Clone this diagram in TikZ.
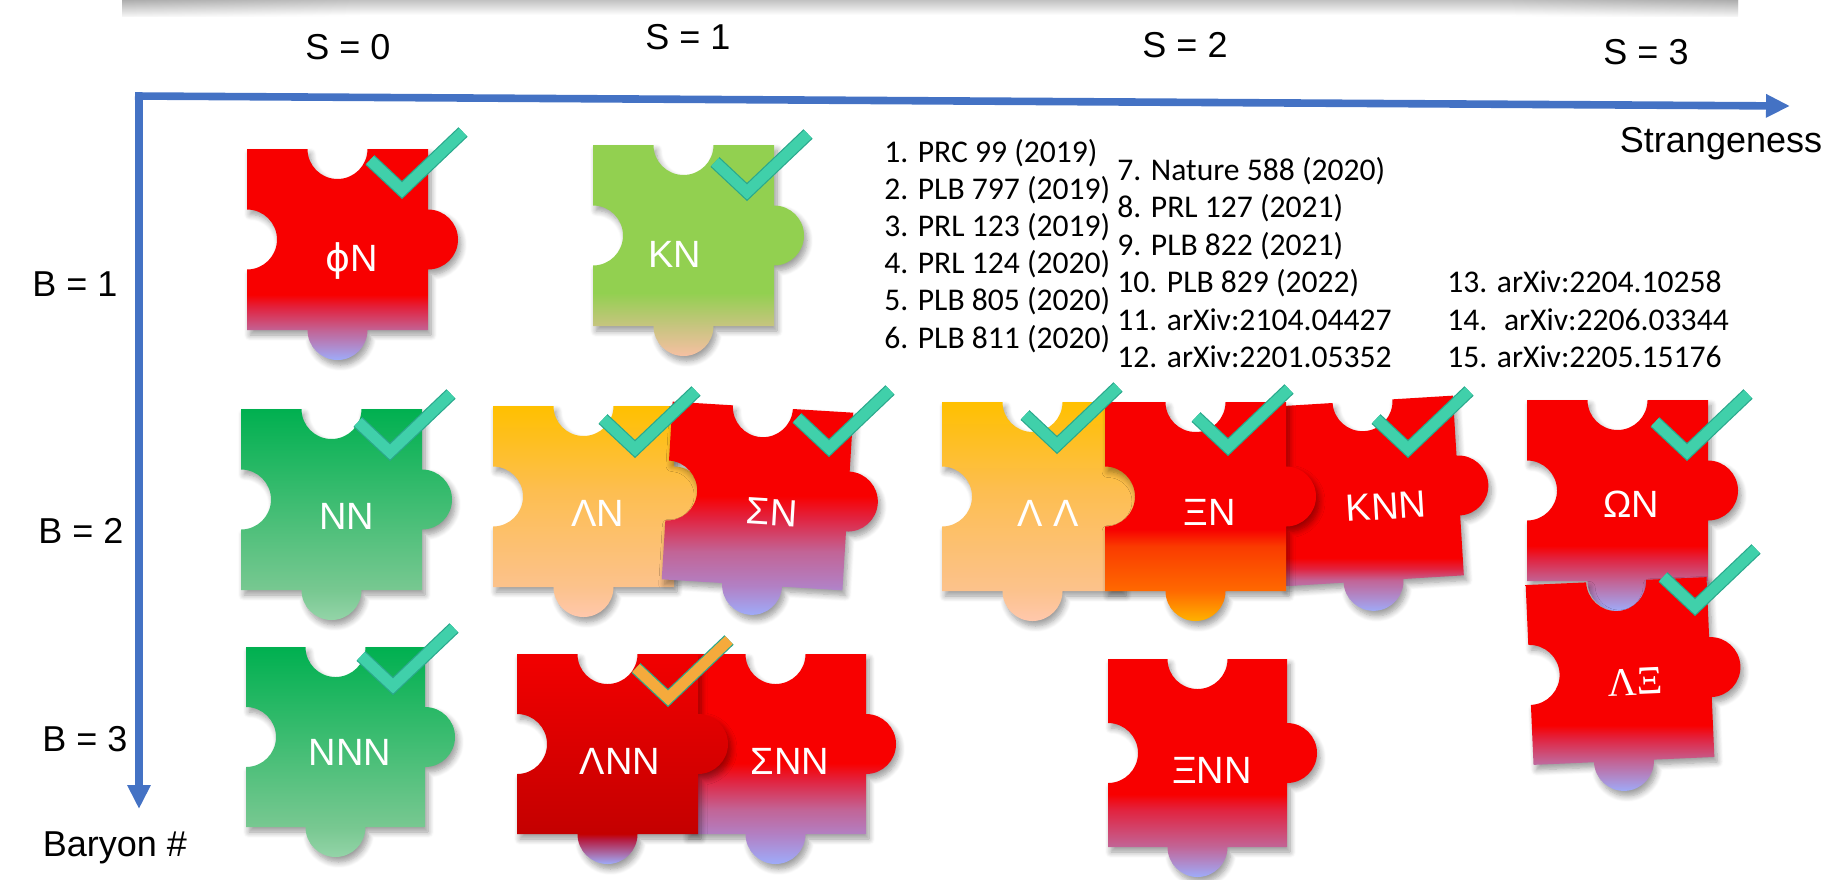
\documentclass[tikz,border=0pt]{standalone}
\usepackage{fontspec}
\setmainfont{Liberation Sans}
\newfontfamily\serifgr{Liberation Serif}
\newfontfamily\reffont{Carlito}
\newfontfamily\phifont{DejaVu Sans}
\usetikzlibrary{arrows.meta,shadows.blur,fadings}

% palette
\definecolor{axblue}{RGB}{68,114,196}
\definecolor{tealfill}{RGB}{64,208,170}
\definecolor{tealedge}{RGB}{42,168,140}
\definecolor{tickorange}{RGB}{245,170,60}
\definecolor{pzred}{RGB}{248,0,0}
\definecolor{pzcrim}{RGB}{226,34,62}
\definecolor{pzmauve}{RGB}{194,100,150}
\definecolor{pzviolet}{RGB}{178,128,196}
\definecolor{pzlav}{RGB}{158,172,250}
\definecolor{gtop}{RGB}{0,176,80}
\definecolor{gbot}{RGB}{120,200,145}
\definecolor{gknob}{RGB}{148,212,168}
\definecolor{kgreen}{RGB}{146,208,80}
\definecolor{ktan}{RGB}{200,196,128}
\definecolor{kpeach}{RGB}{246,192,162}
\definecolor{otop}{RGB}{255,192,0}
\definecolor{omid}{RGB}{253,190,80}
\definecolor{obot}{RGB}{252,194,140}
\definecolor{oknob}{RGB}{255,200,172}
\definecolor{xor1}{RGB}{250,60,0}
\definecolor{xor2}{RGB}{255,104,0}
\definecolor{xgold}{RGB}{255,178,0}
\definecolor{lred}{RGB}{242,0,0}
\definecolor{ldark}{RGB}{196,0,0}
\definecolor{lknob}{RGB}{182,24,60}

% vertical fills of the pieces (25bp = bottom of knob, 75bp = top edge)
\pgfdeclareverticalshading{redA}{100bp}{color(0bp)=(pzlav); color(25bp)=(pzlav); color(32bp)=(pzmauve); color(37.5bp)=(pzcrim); color(40.5bp)=(pzred); color(100bp)=(pzred)}
\pgfdeclareverticalshading{redB}{100bp}{color(0bp)=(pzlav); color(25bp)=(pzlav); color(32bp)=(pzviolet); color(40bp)=(pzmauve); color(48bp)=(pzcrim); color(53bp)=(pzred); color(100bp)=(pzred)}
\pgfdeclareverticalshading{redC}{100bp}{color(0bp)=(pzlav); color(25bp)=(pzlav); color(32bp)=(pzviolet); color(38bp)=(pzmauve); color(45bp)=(pzcrim); color(49bp)=(pzred); color(100bp)=(pzred)}
\pgfdeclareverticalshading{redD}{100bp}{color(0bp)=(pzlav); color(25bp)=(pzlav); color(32bp)=(pzmauve); color(40.5bp)=(pzcrim); color(44bp)=(pzred); color(100bp)=(pzred)}
\pgfdeclareverticalshading{redE}{100bp}{color(0bp)=(pzlav); color(25bp)=(pzlav); color(32.3bp)=(pzmauve); color(35bp)=(pzcrim); color(37.5bp)=(pzred); color(100bp)=(pzred)}
\pgfdeclareverticalshading{greenfill}{100bp}{color(0bp)=(gknob); color(25bp)=(gknob); color(32bp)=(gbot); color(75bp)=(gtop); color(100bp)=(gtop)}
\pgfdeclareverticalshading{kaonfill}{100bp}{color(0bp)=(kpeach); color(25bp)=(kpeach); color(32bp)=(ktan); color(40bp)=(kgreen); color(100bp)=(kgreen)}
\pgfdeclareverticalshading{orangefill}{100bp}{color(0bp)=(oknob); color(25bp)=(oknob); color(32bp)=(obot); color(55bp)=(omid); color(75bp)=(otop); color(100bp)=(otop)}
\pgfdeclareverticalshading{xifill}{100bp}{color(0bp)=(xgold); color(25bp)=(xgold); color(32bp)=(xor2); color(42bp)=(xor1); color(46bp)=(pzred); color(100bp)=(pzred)}
\pgfdeclareverticalshading{lamfill}{100bp}{color(0bp)=(pzlav); color(25bp)=(pzlav); color(31bp)=(lknob); color(32.2bp)=(ldark); color(75bp)=(lred); color(100bp)=(lred)}

\tikzset{
  pzshadow/.style={blur shadow={shadow xshift=1.5pt, shadow yshift=-2.5pt,
      shadow blur radius=3pt, shadow blur steps=8, shadow opacity=40}},
  axisarrow/.style={draw=axblue, line width=3.8pt,
      -{Triangle[length=12pt,width=11pt]}},
  axlab/.style={anchor=base, inner sep=0pt, font=\fontsize{18}{21}\selectfont},
  plab/.style={anchor=base, inner sep=0pt, text=white, font=\fontsize{19}{22}\selectfont},
  reflab/.style={anchor=base west, inner sep=0pt, font=\reffont\fontsize{15.8}{18}\selectfont},
}

% jigsaw piece: centre x, centre y, width, height, rotation, fill
\newcommand\piece[6]{%
  \begin{scope}[shift={(#1,#2)}, rotate=#5]
    \shade[shading=#6, pzshadow]
      (-#3/2,-#4/2) -- (-30,-#4/2) arc[start angle=180, end angle=0, radius=30]
      -- (#3/2,-#4/2) -- (#3/2,-30) arc[start angle=-90, end angle=90, radius=30]
      -- (#3/2,#4/2) -- (30,#4/2) arc[start angle=0, end angle=180, radius=30]
      -- (-#3/2,#4/2) -- (-#3/2,30) arc[start angle=90, end angle=-90, radius=30]
      -- cycle;
  \end{scope}}

% tick mark: tip x, tip y, fill colour
\newcommand\tickmark[3]{%
  \begin{scope}[shift={(#1,#2)}, line join=miter, miter limit=10]
    \draw[line width=6.6pt, draw=tealedge] (-32,-38) -- (0,-8) -- (61,-66);
    \draw[line width=5.4pt, draw=#3] (-32,-38) -- (0,-8) -- (61,-66);
  \end{scope}}

\begin{document}
\begin{tikzpicture}[x=0.5pt, y=-0.5pt]
\useasboundingbox (0,0) rectangle (1829,879);

% shadow band along the top edge
\shade[top color=black!24, bottom color=white] (122,0) rectangle (1738,15);
\shade[top color=black!32, bottom color=black!4, path fading=east] (122,0) rectangle (360,16);
\shade[top color=black!32, bottom color=black!4, path fading=west] (1500,0) rectangle (1738,16);

% axes
\coordinate (hstart) at (135,96);
\coordinate (hend) at (1790,106);
\coordinate (vstart) at (139,93);
\coordinate (vend) at (139,809);
\draw[axisarrow] (hstart) -- (hend);
\draw[axisarrow] (vstart) -- (vend);

\node[axlab] (s0) at (348,59) {S = 0};
\node[axlab] (s1) at (688,49) {S = 1};
\node[axlab] (s2) at (1185,57) {S = 2};
\node[axlab] (s3) at (1646,64) {S = 3};
\node[axlab] (strange) at (1721,152) {Strangeness};
\node[axlab] (b1) at (75,296) {B = 1};
\node[axlab] (b2) at (81,543) {B = 2};
\node[axlab] (b3) at (85,751) {B = 3};
\node[axlab] (baryon) at (115,856) {Baryon \#};

% references
\foreach \t/\yy [count=\i] in {1. PRC 99 (2019)/162, 2. PLB 797 (2019)/199.2,
    3. PRL 123 (2019)/236.4, 4. PRL 124 (2020)/273.6, 5. PLB 805 (2020)/310.8,
    6. PLB 811 (2020)/348}
  \node[reflab] (refa\i) at (884,\yy) {\t};
\foreach \t/\yy [count=\i] in {7. Nature 588 (2020)/180, 8. PRL 127 (2021)/217.5,
    9. PLB 822 (2021)/255, 10. PLB 829 (2022)/292.5, 11. arXiv:2104.04427/330,
    12. arXiv:2201.05352/367.5}
  \node[reflab] (refb\i) at (1117,\yy) {\t};
\foreach \t/\yy [count=\i] in {13. arXiv:2204.10258/292.5, 14.~ arXiv:2206.03344/330,
    15. arXiv:2205.15176/367.5}
  \node[reflab] (refc\i) at (1447,\yy) {\t};

% B = 1
\piece{337.5}{239.5}{181}{181}{0}{redA}
\node[plab] (phin) at (352,271.5) {{\phifont ϕ}N};
\piece{683.5}{235.5}{181}{181}{0}{kaonfill}
\node[plab] (kn) at (675,267.5) {KN};

% B = 2
\piece{331.5}{499.5}{181}{181}{0}{greenfill}
\node[plab] (nn) at (347,529.5) {NN};
\piece{583.5}{496.5}{181}{181}{0}{orangefill}
\node[plab] (lamn) at (598,526.5) {ΛN};
\piece{757.5}{496}{181}{178}{-3.5}{redB}
\node[plab, rotate=-3.5] (sign) at (771,525.5) {ΣN};
\piece{1032.5}{496.5}{181}{189}{0}{orangefill}
\node[plab] (lamlam) at (1048,526.5) {Λ Λ};
\piece{1368}{491}{181}{180}{3.5}{redE}
\node[plab, rotate=3.5] (knn) at (1387,519.5) {KNN};
\piece{1195.5}{496.5}{181}{189}{0}{xifill}
\node[plab] (xin) at (1210,525.5) {ΞN};
\piece{1617.5}{490.5}{181}{181}{0}{redA}
\node[plab] (omegan) at (1631,517.5) {ΩN};
\piece{1620}{671}{181}{180}{2.5}{redA}
\node[plab, rotate=2.5, font=\serifgr\fontsize{20}{23}\selectfont] (lamxi) at (1636,695) {ΛΞ};

% B = 3
\piece{335.5}{737}{179}{180}{0}{greenfill}
\node[plab] (nnn) at (350,765.5) {NNN};
\piece{775.5}{744}{181}{180}{0}{redC}
\node[plab] (signn) at (790,774.5) {ΣNN};
\piece{607.5}{744}{181}{180}{0}{lamfill}
\node[plab] (lamnn) at (620,774.5) {ΛNN};
\piece{1197.5}{753}{179}{188}{0}{redD}
\node[plab] (xinn) at (1212,783.5) {ΞNN};

% tick marks
\tickmark{402}{198}{tealfill}
\tickmark{747}{200}{tealfill}
\tickmark{390}{460}{tealfill}
\tickmark{635}{457}{tealfill}
\tickmark{829}{456}{tealfill}
\tickmark{1057}{453}{tealfill}
\tickmark{1228}{455}{tealfill}
\tickmark{1408}{457}{tealfill}
\tickmark{1687}{460}{tealfill}
\tickmark{1695}{615}{tealfill}
\tickmark{393}{694}{tealfill}
\tickmark{668}{706}{tickorange}
\end{tikzpicture}
\end{document}
